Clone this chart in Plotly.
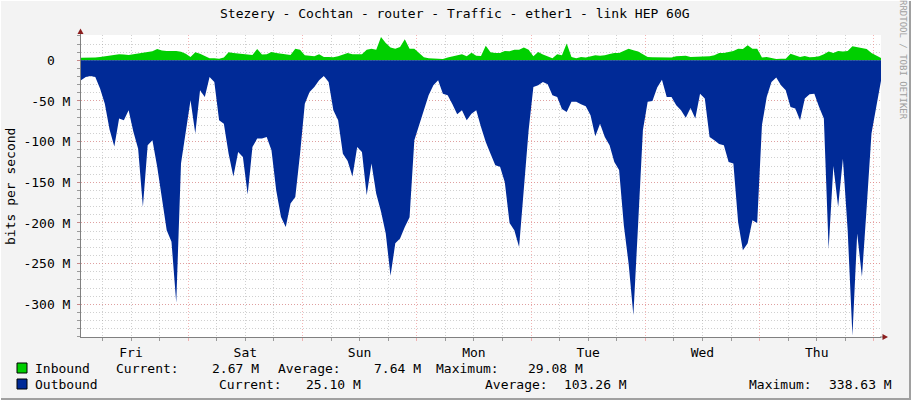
import pandas as pd
import plotly.graph_objects as go

# ---- data (values in Mbit/s, hourly samples over the week) ----
start_time = "2024-03-01 01:30"   # a Friday, left edge of the graph
n_samples = 169

inbound = [
    3.0, 3.0, 3.2, 3.5, 4.0, 4.9, 5.5, 6.5, 7.4, 7.0,
    6.5, 7.4, 8.2, 8.6, 9.5, 11, 14, 12, 11.5, 11.5,
    11.5, 10.5, 8, 4, 10, 8, 5, 2.5, 2.5, 2,
    3.3, 10, 9, 8.2, 8.2, 7.4, 6.6, 14, 7, 7.4,
    10.2, 9, 8.2, 8.2, 6.6, 14.3, 13, 6.1, 5.7, 4.9,
    7.4, 4.1, 4.1, 3.7, 4.9, 6.6, 9, 7.4, 7.4, 7.4,
    13, 14.3, 13, 28.7, 21.3, 15.6, 14.3, 16.4, 25.8, 14.3,
    14.3, 9, 3.7, 2.5, 2, 2, 1.6, 3.3, 4.9, 6.1,
    7.4, 4.9, 9.4, 5.7, 5.3, 18, 10, 9, 9, 11.5,
    11, 13, 13, 15.6, 13, 4.9, 10.2, 7, 4.9, 2.5,
    7.4, 6.1, 20.5, 4.1, 2.5, 4.1, 3.3, 4.9, 6.1, 5.7,
    6.1, 7.8, 9, 9, 11.5, 14.3, 12.3, 10.7, 7.4, 4.1,
    3.7, 3.7, 4.1, 4.1, 3.3, 4.9, 4.9, 5.7, 4.1, 4.1,
    4.9, 4.1, 4.9, 6.1, 9, 9, 9.8, 11.5, 14.3, 13.9,
    18.4, 14.3, 14.3, 3.3, 4.1, 3.3, 1.6, 2, 2, 8.2,
    5.7, 4.1, 5.3, 3.7, 4.1, 4.9, 7.4, 10.7, 9, 11.5,
    10.7, 11.5, 17.2, 16.4, 15.6, 13.9, 9, 5.7, 2.67,
]

outbound = [
    24.6, 20.5, 19.3, 20.5, 34.8, 53.3, 85, 106, 71.7, 73.8,
    61.5, 88, 108.6, 180, 104.5, 98.4, 131, 170, 209, 223,
    298, 127, 90, 49, 90, 36.9, 45, 20.5, 26.6, 73.8,
    77.9, 115, 143, 112.7, 118.9, 165, 106.6, 96.3, 96.3, 94.3,
    110.7, 160, 192.6, 205, 176, 168, 114.8, 53.3, 38.9, 32.8,
    24.6, 19.3, 26.6, 61.5, 73.8, 114.8, 123.8, 143, 106.6, 112.7,
    166, 127, 164, 186, 213, 265, 225, 219, 205, 193,
    98.4, 80, 61.5, 43, 30.7, 24.6, 41, 43, 54, 66.4,
    61.5, 73.8, 65.6, 61.5, 82, 100.4, 114.8, 129, 131, 150,
    200, 209, 229.5, 160, 86, 32.8, 30.7, 26.6, 29.5, 43,
    45, 60, 63.5, 51, 51, 54, 56.6, 67.6, 93.4, 77.9,
    94.3, 104.5, 125, 135, 203, 250, 313, 201, 86, 51,
    50, 33.6, 23.8, 45, 45, 55.3, 61.5, 70.5, 58.6, 71.7,
    41, 47, 94.3, 98.4, 103, 104.5, 125, 127, 199, 233.6,
    225, 196.7, 200, 80, 45, 26.6, 21.3, 30.7, 36.9, 57.4,
    59.4, 73.8, 47, 41.8, 41, 57.4, 71.7, 232, 130, 180,
    121, 209, 338.6, 213, 266, 180, 90, 57.4, 25.1,
]

ytick_vals = [0, -50, -100, -150, -200, -250, -300]
ytick_text = ["0\u00a0\u00a0", "-50 M", "-100 M", "-150 M", "-200 M", "-250 M", "-300 M"]

title_text = "Stezery - Cochtan - router - Traffic - ether1 - link HEP 60G"
legend_rows = [
    ("Inbound", "#00CF00", ["Current:", "2.67 M", "Average:", "7.64 M", "Maximum:", "29.08 M"]),
    ("Outbound", "#002A97", ["Current:", "25.10 M", "Average:", "103.26 M", "Maximum:", "338.63 M"]),
]

times = pd.date_range(start_time, periods=n_samples, freq="h")

# ---- layout helpers (pixel -> paper) ----
W, H = 911, 400
L, R, T, B = 81, 30, 35, 63
PW, PH = W - L - R, H - T - B


def px(x):
    return (x - L) / PW


def py(y):
    return (H - B - y) / PH


MONO = "DejaVu Sans Mono"

fig = go.Figure()
fig.add_trace(go.Scatter(
    x=times, y=inbound, mode="lines", line=dict(width=0, color="#00CF00"),
    fill="tozeroy", fillcolor="#00CF00", name="Inbound",
))
fig.add_trace(go.Scatter(
    x=times, y=[-v for v in outbound], mode="lines", line=dict(width=0, color="#002A97"),
    fill="tozeroy", fillcolor="#002A97", name="Outbound",
))

grid_major = "rgba(235,120,120,0.55)"
grid_minor = "rgba(150,150,150,0.45)"

fig.update_xaxes(
    type="date",
    range=[times[0], times[-1]],
    dtick=86400000, tick0="2024-03-01", tickformat="%a",
    ticklabelmode="period",
    showgrid=True, gridcolor=grid_major, griddash="1px,2px", gridwidth=1,
    ticks="outside", ticklen=3, tickcolor=grid_major,
    minor=dict(dtick=6 * 3600000, showgrid=True, gridcolor=grid_minor,
               griddash="1px,2px", ticks="outside", ticklen=3, tickcolor="#999999"),
    showline=True, linecolor="#808080", linewidth=1,
    zeroline=False, tickfont=dict(family=MONO, size=13, color="#000000"),
)
fig.update_yaxes(
    range=[-340.2, 31.1],
    tickvals=ytick_vals, ticktext=ytick_text,
    showgrid=True, gridcolor=grid_major, griddash="1px,2px", gridwidth=1,
    ticks="outside", ticklen=3, tickcolor=grid_major, ticklabelstandoff=4,
    minor=dict(dtick=10, tick0=0, showgrid=True, gridcolor=grid_minor,
               griddash="1px,2px", ticks="outside", ticklen=3, tickcolor="#999999"),
    showline=True, linecolor="#808080", linewidth=1,
    zeroline=False, tickfont=dict(family=MONO, size=13, color="#000000"),
)

annotations = [
    dict(text=title_text, x=px(455), y=py(14), xanchor="center", yanchor="middle",
         font=dict(family=MONO, size=13, color="#000000")),
    dict(text="bits per second", x=px(10), y=py(187), textangle=-90,
         xanchor="center", yanchor="middle", font=dict(family=MONO, size=13, color="#000000")),
    dict(text="RRDTOOL / TOBI OETIKER", x=px(903), y=py(60), textangle=90,
         xanchor="center", yanchor="middle", font=dict(family=MONO, size=9, color="#A0A0A0")),
]

# legend text positions (left edge, pixels) per row
row_y = [368, 384]
row_x = [
    [116, 212, 278, 374, 436, 528],
    [219, 306, 485, 564, 749, 829],
]
shapes = []
for (name, color, parts), yy, xs in zip(legend_rows, row_y, row_x):
    shapes.append(dict(type="rect", xref="paper", yref="paper",
                       x0=px(17), x1=px(27), y0=py(yy - 5), y1=py(yy + 5),
                       fillcolor=color, line=dict(color="#000000", width=1)))
    annotations.append(dict(text=name, x=px(33.5), y=py(yy), xanchor="left", yanchor="middle",
                            font=dict(family=MONO, size=13, color="#000000")))
    for t, xx in zip(parts, xs):
        annotations.append(dict(text=t, x=px(xx - 1), y=py(yy), xanchor="left", yanchor="middle",
                                font=dict(family=MONO, size=13, color="#000000")))

for a in annotations:
    a.update(xref="paper", yref="paper", showarrow=False, borderpad=0)

# frame and axis arrows
shapes += [
    dict(type="line", xref="paper", yref="paper", x0=px(0), x1=px(911), y0=py(399), y1=py(399),
         line=dict(color="#A0A0A0", width=2)),
    dict(type="line", xref="paper", yref="paper", x0=px(910), x1=px(910), y0=py(0), y1=py(400),
         line=dict(color="#A0A0A0", width=2)),
    dict(type="line", xref="paper", yref="paper", x0=px(0), x1=px(911), y0=py(0.5), y1=py(0.5),
         line=dict(color="#FFFFFF", width=1)),
    dict(type="line", xref="paper", yref="paper", x0=px(0.5), x1=px(0.5), y0=py(0), y1=py(400),
         line=dict(color="#FFFFFF", width=1)),
    dict(type="line", xref="paper", yref="paper", x0=px(80.5), x1=px(80.5), y0=py(33), y1=py(36),
         line=dict(color="#808080", width=1)),
    dict(type="line", xref="paper", yref="paper", x0=px(880), x1=px(884), y0=py(337), y1=py(337),
         line=dict(color="#808080", width=1)),
    dict(type="path", xref="paper", yref="paper",
         path=f"M {px(80.5)},{py(28.5)} L {px(77.5)},{py(34)} L {px(83.5)},{py(34)} Z",
         fillcolor="#8B1E1E", line=dict(width=0)),
    dict(type="path", xref="paper", yref="paper",
         path=f"M {px(888)},{py(337)} L {px(882.5)},{py(334)} L {px(882.5)},{py(340)} Z",
         fillcolor="#8B1E1E", line=dict(width=0)),
]

fig.update_layout(
    width=W, height=H,
    margin=dict(l=L, r=R, t=T, b=B),
    paper_bgcolor="#F3F3F3", plot_bgcolor="#FFFFFF",
    showlegend=False,
    annotations=annotations,
    shapes=shapes,
    font=dict(family=MONO, size=13, color="#000000"),
)

# the page body has a default 8px margin; drop it so the graph sits at the window corner
fig.write_html("out.html", config={"displayModeBar": False},
               post_script="document.body.style.margin='0';")
